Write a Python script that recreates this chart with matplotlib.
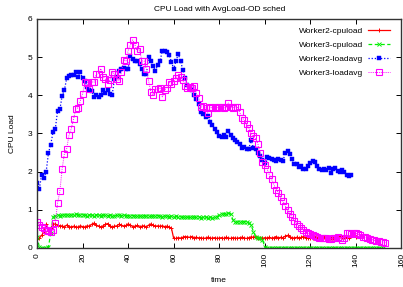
import matplotlib
matplotlib.use("Agg")
import matplotlib.pyplot as plt

plt.rcParams['font.family'] = ['Liberation Sans', 'DejaVu Sans']

title = "CPU Load with AvgLoad-OD sched"
xlabel = "time"
ylabel = "CPU Load"
labels = ["Worker2-cpuload", "Worker3-cpuload", "Worker2-loadavg", "Worker3-loadavg"]

w2_cpu = [0.23, 0.26, 0.33, 0.42, 0.62, 0.45, 0.52, 0.62, 0.63, 0.60,
          0.57, 0.58, 0.55, 0.60, 0.56, 0.55, 0.57, 0.54, 0.55, 0.58,
          0.56, 0.55, 0.58, 0.57, 0.62, 0.65, 0.60, 0.57, 0.55, 0.58,
          0.62, 0.64, 0.58, 0.55, 0.57, 0.58, 0.62, 0.60, 0.57, 0.59,
          0.63, 0.60, 0.56, 0.57, 0.59, 0.55, 0.57, 0.58, 0.55, 0.60,
          0.63, 0.59, 0.57, 0.58, 0.57, 0.58, 0.56, 0.57, 0.55, 0.52,
          0.25, 0.25, 0.27, 0.26, 0.28, 0.30, 0.29, 0.28, 0.30, 0.27,
          0.28, 0.26, 0.27, 0.25, 0.26, 0.28, 0.25, 0.26, 0.27, 0.25,
          0.26, 0.27, 0.25, 0.28, 0.26, 0.25, 0.27, 0.26, 0.25, 0.27,
          0.28, 0.26, 0.25, 0.27, 0.29, 0.28, 0.30, 0.27, 0.26, 0.25,
          0.27, 0.26, 0.28, 0.25, 0.27, 0.30, 0.26, 0.28, 0.27, 0.31,
          0.33, 0.29, 0.27, 0.26, 0.28, 0.25, 0.28, 0.30, 0.27, 0.26,
          0.27, 0.25, 0.28, 0.26, 0.27, 0.25, 0.28, 0.26, 0.27, 0.25,
          0.27, 0.28, 0.30, 0.32, 0.28, 0.30, 0.27, 0.26, 0.33, 0.34, 0.28]

w3_cpu = [0.30, 0.02, 0.00, 0.00, 0.00, 0.02, 0.40, 0.80, 0.85, 0.86,
          0.85, 0.86, 0.87, 0.86, 0.87, 0.86, 0.87, 0.88, 0.87, 0.86,
          0.87, 0.86, 0.85, 0.87, 0.86, 0.85, 0.87, 0.86, 0.85, 0.86,
          0.86, 0.85, 0.86, 0.85, 0.84, 0.86, 0.87, 0.85, 0.86, 0.85,
          0.85, 0.84, 0.85, 0.84, 0.85, 0.83, 0.84, 0.85, 0.83, 0.84,
          0.83, 0.84, 0.83, 0.85, 0.83, 0.82, 0.84, 0.83, 0.82, 0.83,
          0.82, 0.83, 0.81, 0.82, 0.80, 0.82, 0.81, 0.80, 0.82, 0.81,
          0.80, 0.81, 0.79, 0.80, 0.81, 0.79, 0.80, 0.78, 0.80, 0.81,
          0.86, 0.88, 0.90, 0.89, 0.91, 0.90, 0.74, 0.69, 0.68, 0.69,
          0.68, 0.69, 0.68, 0.66, 0.60, 0.43, 0.30, 0.27, 0.25, 0.22,
          0.02, 0.0, 0.0, 0.0, 0.0, 0.0, 0.0, 0.0, 0.0, 0.0,
          0.0, 0.0, 0.0, 0.0, 0.0, 0.0, 0.0, 0.0, 0.0, 0.0,
          0.0, 0.0, 0.0, 0.0, 0.0, 0.0, 0.0, 0.0, 0.0, 0.0,
          0.0, 0.0, 0.0, 0.0, 0.0, 0.0, 0.0, 0.0, 0.0, 0.0,
          0.0, 0.0, 0.0, 0.0, 0.0, 0.0, 0.0, 0.0, 0.0, 0.0,
          0.0, 0.0, 0.0]

w2_load = [1.70, 1.55, 1.92, 1.83, 2.00, 2.49, 2.71, 3.03, 3.12, 3.59,
           3.63, 3.98, 4.14, 4.44, 4.51, 4.53, 4.52, 4.60, 4.48, 4.60,
           4.44, 4.38, 4.23, 4.14, 4.12, 3.96, 4.02, 3.96, 4.02, 4.14,
           4.05, 4.14, 4.04, 4.02, 4.42, 4.49, 4.63, 4.68, 4.72, 4.68,
           4.70, 5.03, 4.95, 4.89, 4.89, 4.81, 4.68, 4.55, 4.57, 5.00,
           4.90, 4.78, 4.64, 4.80, 4.90, 5.16, 5.15, 5.14, 5.05, 4.88,
           4.69, 4.90, 5.08, 4.90, 4.67, 4.46, 4.26, 4.20, 4.14, 4.02,
           3.91, 3.77, 3.55, 3.51, 3.43, 3.47, 3.31, 3.22, 3.12, 3.03,
           2.93, 2.91, 2.95, 2.91, 3.06, 2.95, 2.89, 2.82, 2.78, 2.72,
           2.62, 2.65, 2.60, 2.60, 2.84, 2.62, 2.58, 2.49, 2.40, 2.30,
           2.22, 2.38, 2.36, 2.32, 2.30, 2.27, 2.33, 2.30, 2.28, 2.49,
           2.54, 2.45, 2.32, 2.19, 2.20, 2.12, 2.15, 2.07, 2.08, 2.16,
           2.22, 2.27, 2.24, 2.16, 2.07, 2.05, 2.07, 2.05, 2.10, 1.96,
           2.07, 2.10, 2.02, 1.98, 2.05, 2.00, 1.92, 1.88, 1.90]

w3_load = [0.69, 0.60, 0.56, 0.52, 0.48, 0.45, 0.43, 0.46, 0.66, 1.18,
           1.48, 2.07, 2.47, 2.60, 2.95, 3.12, 3.37, 3.65, 3.67, 3.86,
           4.04, 4.35, 4.33, 4.16, 4.35, 4.34, 4.55, 4.57, 4.70, 4.48,
           4.42, 4.30, 4.40, 4.60, 4.57, 4.42, 4.38, 4.60, 4.93, 4.90,
           5.17, 5.32, 5.45, 5.32, 5.15, 5.20, 4.90, 4.90, 4.68, 4.37,
           4.08, 4.01, 4.16, 4.16, 4.20, 3.96, 4.14, 4.20, 4.34, 4.30,
           4.37, 4.45, 4.53, 4.49, 4.40, 4.25, 4.20, 4.22, 4.20, 4.25,
           4.05, 3.93, 3.69, 3.72, 3.67, 3.53, 3.69, 3.67, 3.69, 3.67,
           3.69, 3.69, 3.67, 3.69, 3.80, 3.70, 3.67, 3.70, 3.69, 3.55,
           3.41, 3.35, 3.24, 3.15, 3.00, 2.93, 2.88, 2.72, 2.49, 2.25,
           2.18, 2.07, 1.92, 1.80, 1.66, 1.53, 1.45, 1.33, 1.22, 1.10,
           1.00, 0.90, 0.80, 0.71, 0.63, 0.57, 0.52, 0.47, 0.43, 0.39,
           0.36, 0.34, 0.31, 0.29, 0.27, 0.26, 0.25, 0.25, 0.24, 0.24,
           0.25, 0.27, 0.29, 0.26, 0.22, 0.25, 0.38, 0.40, 0.37, 0.40,
           0.38, 0.36, 0.33, 0.30, 0.28, 0.26, 0.24, 0.22, 0.20, 0.18,
           0.17, 0.16, 0.15, 0.14]

fig = plt.figure(figsize=(4.03, 2.87), dpi=100)
ax = fig.add_axes([0.092, 0.136, 0.904, 0.798])

ax.plot(range(len(w2_cpu)), w2_cpu, color='#ff0000', lw=0.9, ls='-',
        marker='+', ms=2.8, mew=0.7, label=labels[0])
ax.plot(range(len(w3_cpu)), w3_cpu, color='#00f000', lw=0.9, ls=(0, (3, 2)),
        marker='x', ms=2.2, mew=0.7, label=labels[1])
ax.plot(range(len(w2_load)), w2_load, color='#0000ff', lw=0.9, ls=(0, (1, 1.5)),
        marker='s', ms=3.0, mew=0.3, mfc='#0000ff', label=labels[2])
ax.plot(range(len(w3_load)), w3_load, color='#ff00ff', lw=0.7, ls=(0, (1, 1.2)),
        marker='s', ms=3.7, mew=0.8, mfc='none', label=labels[3])

ax.set_xlim(0, 160)
ax.set_ylim(0, 6)
ax.set_xticks(range(0, 161, 20))
ax.set_yticks(range(0, 7))
ax.tick_params(direction='in', length=3.5, width=0.7, labelsize=6,
               top=True, right=True, colors='black')
for lab in ax.get_xticklabels():
    lab.set_rotation(90)
for s in ax.spines.values():
    s.set_linewidth(1.0)
    s.set_color('#333333')

ax.set_title(title, fontsize=6, pad=6)
ax.set_xlabel(xlabel, fontsize=6, labelpad=7)
ax.set_ylabel(ylabel, fontsize=6, labelpad=8)

ax.legend(loc='upper right', frameon=False, markerfirst=False, fontsize=6,
          handlelength=2.6, handletextpad=0.6, labelspacing=0.75,
          borderaxespad=0.3, bbox_to_anchor=(0.985, 0.99))

fig.savefig("out.png", dpi=100)
